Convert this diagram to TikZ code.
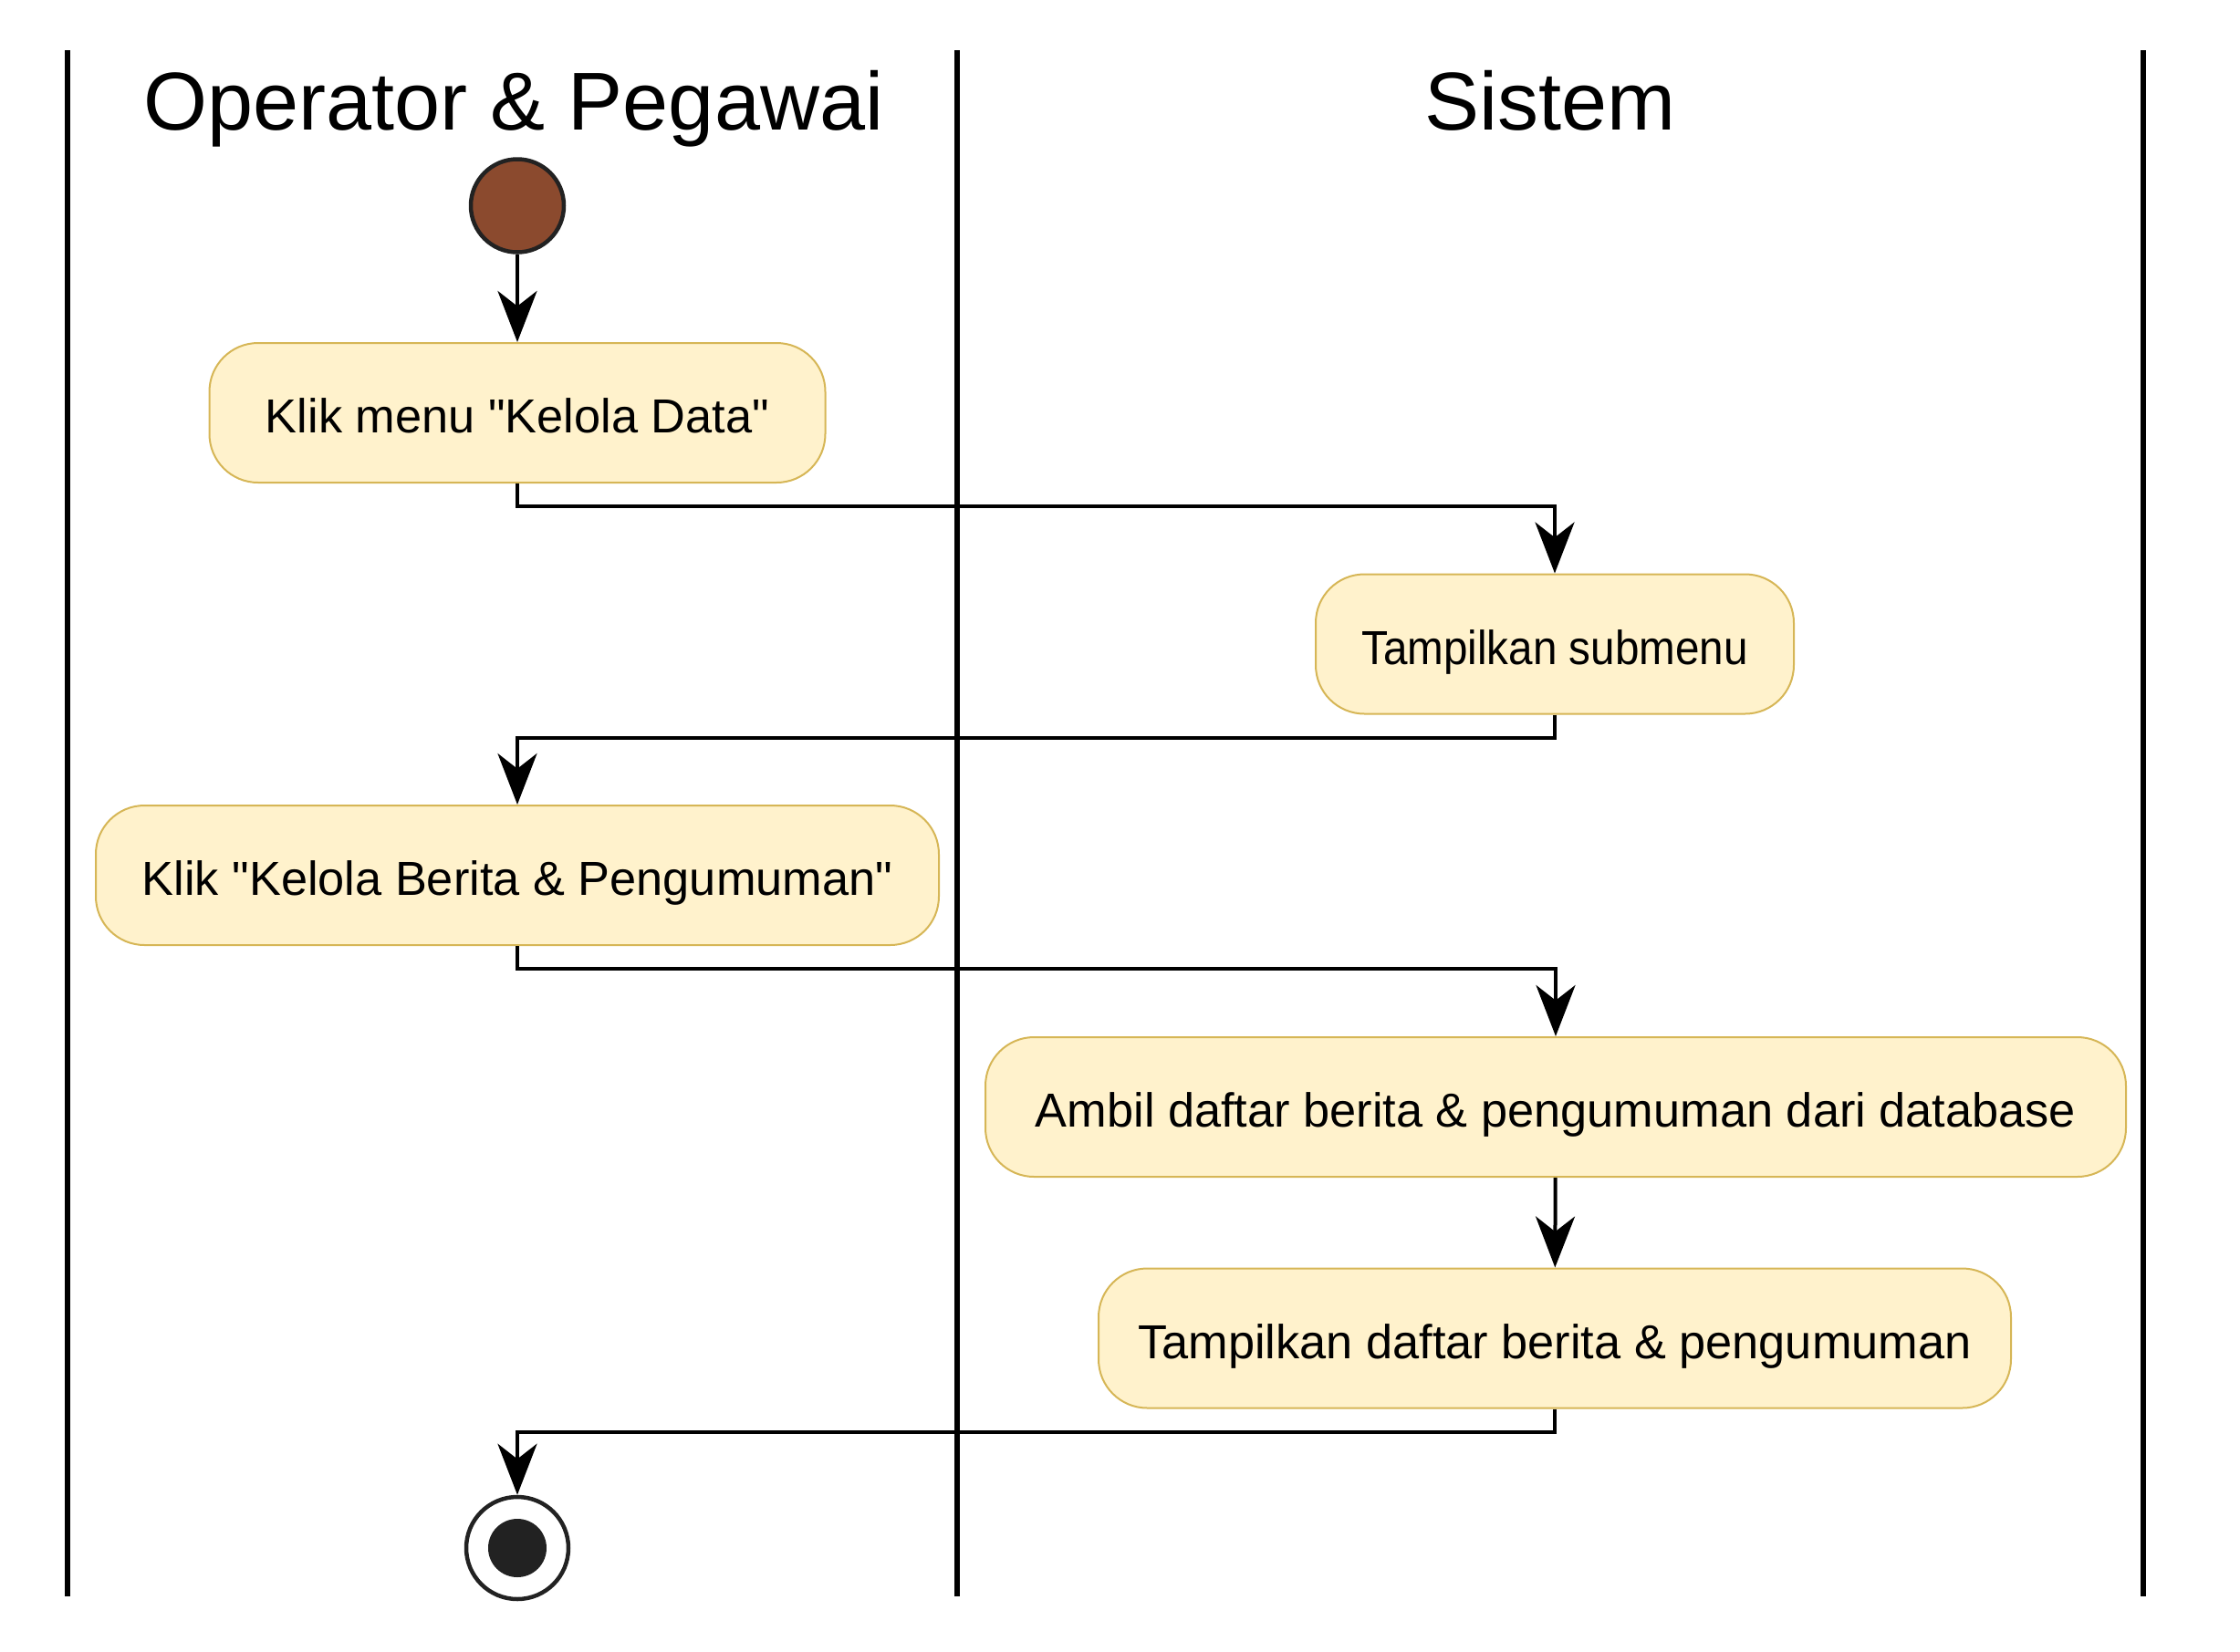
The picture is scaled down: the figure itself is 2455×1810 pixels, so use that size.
\documentclass[tikz,border=0pt]{standalone}
\usepackage{fontspec}
\setmainfont{Liberation Sans}
\newfontfamily\boxfont{Liberation Sans}
\usetikzlibrary{arrows.meta}
\definecolor{boxfill}{HTML}{FFF2CC}
\definecolor{boxline}{HTML}{D6B656}
\definecolor{startfill}{RGB}{139,74,46}
\definecolor{dark}{HTML}{222222}
\begin{document}
\begin{tikzpicture}[x=0.3pt,y=-0.3pt,
  act/.style={draw=boxline, fill=boxfill, line width=0.6pt, rounded corners=16pt, minimum height=45.9pt, inner sep=0pt, text height=14pt, text depth=0.8pt, font=\boxfont\fontsize{15.7}{18}\selectfont},
  flow/.style={line width=1.2pt, -{Stealth[length=16.8pt,width=12.9pt,inset=5pt]}},
  lane/.style={line width=1.8pt},
  hdr/.style={font=\fontsize{27}{32}\selectfont, anchor=base}]
\useasboundingbox (0,0) rectangle (2455,1810);
% swimlane borders
\draw[lane] (73.6,55) -- (73.6,1750);
\draw[lane] (1049,55) -- (1049,1750);
\draw[lane] (2349,55) -- (2349,1750);
% headers
\node[hdr] (h1) at (563,142) {Operator \& Pegawai};
\node[hdr] (h2) at (1699,142) {Sistem};
% start
\node[circle, draw=dark, fill=startfill, line width=1.35pt, minimum size=30.6pt, inner sep=0pt] (s) at (567,225.5) {};
% activities
\node[act, minimum width=202.5pt] (a1) at (567,452.5) {Klik menu "Kelola Data"};
\node[act, minimum width=157.2pt] (a2) at (1704,706) {\scalebox{0.91}[1]{Tampilkan submenu}};
\node[act, minimum width=277.2pt] (a3) at (567,959.5) {Klik "Kelola Berita \& Pengumuman"};
\node[act, minimum width=375pt] (a4) at (1705,1213.5) {Ambil daftar berita \& pengumuman dari database};
\node[act, minimum width=300pt] (a5) at (1704,1467) {Tampilkan daftar berita \& pengumuman};
% end
\node[circle, draw=dark, fill=white, line width=1.35pt, minimum size=33.6pt, inner sep=0pt] (e) at (567,1697) {};
\node[circle, fill=dark, minimum size=19.2pt, inner sep=0pt] (ein) at (e) {};
% flows
\draw[flow] (s) -- (a1);
\draw[flow] (a1.south) -- ++(0,25) -| (a2.north);
\draw[flow] (a2.south) -- ++(0,25) -| (a3.north);
\draw[flow] (a3.south) -- ++(0,25) -| (a4.north);
\draw[flow] (a4) -- (a5);
\draw[flow] (a5.south) -- ++(0,25) -| (e.north);
\end{tikzpicture}
\end{document}
